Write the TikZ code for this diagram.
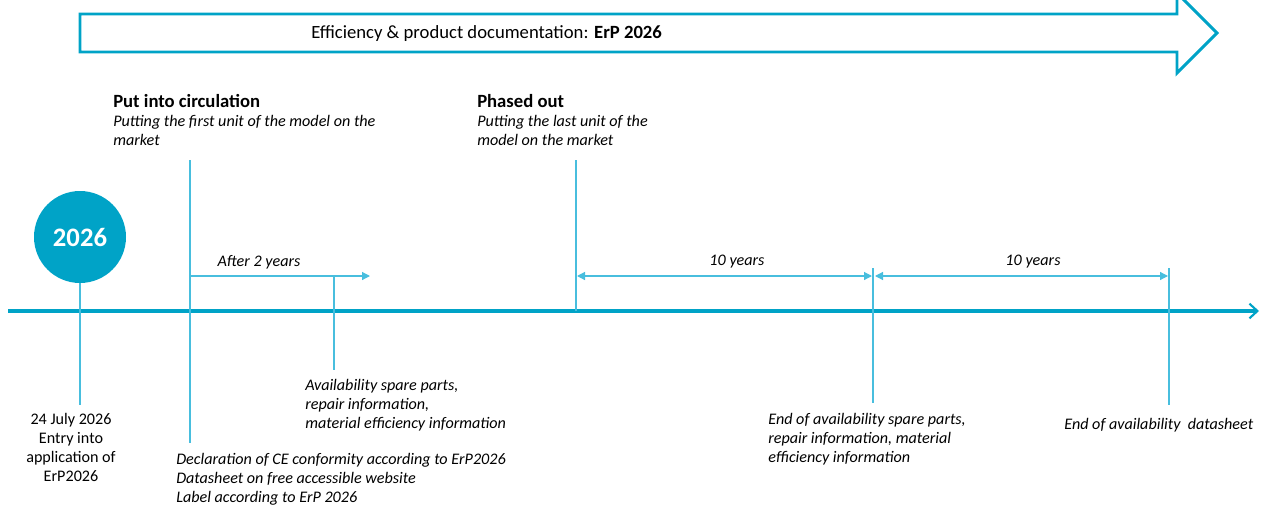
\documentclass[tikz,border=0pt]{standalone}
\usepackage{fontspec}
\setmainfont{Carlito}
\usetikzlibrary{arrows.meta}
\definecolor{erpblue}{RGB}{0,163,199}
\definecolor{erplight}{RGB}{72,190,222}

\begin{document}
\begin{tikzpicture}[x=0.75pt,y=-0.75pt,
  font=\fontsize{12.1}{14.25}\selectfont,
  banner/.style={draw=erpblue,line width=2.2pt,fill=white,line join=miter},
  axis/.style={draw=erpblue,line width=2.4pt,-{Straight Barb[length=6pt,width=11pt,line width=1.6pt]}},
  marker/.style={draw=erplight,line width=0.9pt},
  single/.style={marker,-{Triangle[length=6pt,width=6pt]}},
  span/.style={marker,{Triangle[length=6pt,width=6pt]}-{Triangle[length=6pt,width=6pt]}},
  head/.style={anchor=north west,inner sep=0pt,font=\fontsize{14}{16}\selectfont\bfseries},
  note/.style={anchor=north west,inner sep=0pt,align=left,font=\fontsize{12.1}{14.25}\selectfont\itshape},
  lapse/.style={inner sep=0pt,font=\fontsize{12.1}{14.25}\selectfont\itshape},
  year/.style={circle,fill=erpblue,minimum size=69pt,inner sep=0pt,text=white,font=\fontsize{20}{22}\selectfont\bfseries}]
\useasboundingbox (0,0) rectangle (1264,507);

% banner
\draw[banner] (80,14) -- (1177,14) -- (1177,-7) -- (1217,33) -- (1177,73) -- (1177,52) -- (80,52) -- cycle;
\node[anchor=west,inner sep=0pt,font=\fontsize{14}{16}\selectfont] (bannerText) at (311,34) {Efficiency \& product documentation: \textbf{ErP 2026}};

% time axis
\coordinate (axisL) at (8,311);
\coordinate (axisR) at (1259,311);
\draw[axis] (axisL) -- (axisR);

% entry into application
\node[year] (year) at (80,237) {2026};
\coordinate (yearFoot) at (80,405);
\draw[marker] (year.south) -- (yearFoot);
\node[anchor=north,inner sep=0pt,align=center] (entry) at (71,413.5) {24 July 2026\\Entry into\\application of\\ErP2026};

% put into circulation
\coordinate (putTop) at (190,160);
\coordinate (putFoot) at (190,443);
\draw[marker] (putTop) -- (putFoot);
\node[head] (putHead) at (113,94) {Put into circulation};
\node[note] (putNote) at (113,115.5) {Putting the first unit of the model on the\\market};
\node[note] (putDocs) at (176,453.5) {Declaration of CE conformity according to ErP2026\\Datasheet on free accessible website\\Label according to ErP 2026};

\coordinate (twoA) at (190,276);
\coordinate (twoB) at (370,276);
\draw[single] (twoA) -- (twoB);
\node[lapse] (twoLabel) at (259,262) {After 2 years};
\coordinate (spareTop) at (334,276);
\coordinate (spareFoot) at (334,370);
\draw[marker] (spareTop) -- (spareFoot);
\node[note] (spareNote) at (305,379.5) {Availability spare parts,\\repair information,\\material efficiency information};

% phased out
\coordinate (outTop) at (576,160);
\coordinate (outFoot) at (576,311);
\draw[marker] (outTop) -- (outFoot);
\node[head] (outHead) at (477,94) {Phased out};
\node[note] (outNote) at (477,115.5) {Putting the last unit of the\\model on the market};

\coordinate (tenA) at (577,276);
\coordinate (tenB) at (872,276);
\draw[span] (tenA) -- (tenB);
\node[lapse] (tenLabel) at (737,262) {10 years};
\coordinate (endTop) at (873,268);
\coordinate (endFoot) at (873,403);
\draw[marker] (endTop) -- (endFoot);
\node[note] (endNote) at (768,413.5) {End of availability spare parts,\\repair information, material\\efficiency information};

\coordinate (moreA) at (875,276);
\coordinate (moreB) at (1168,276);
\draw[span] (moreA) -- (moreB);
\node[lapse] (moreLabel) at (1033,262) {10 years};
\coordinate (sheetTop) at (1169,268);
\coordinate (sheetFoot) at (1169,405);
\draw[marker] (sheetTop) -- (sheetFoot);
\node[note] (sheetNote) at (1064,418.5) {End of availability\ \ datasheet};
\end{tikzpicture}
\end{document}
